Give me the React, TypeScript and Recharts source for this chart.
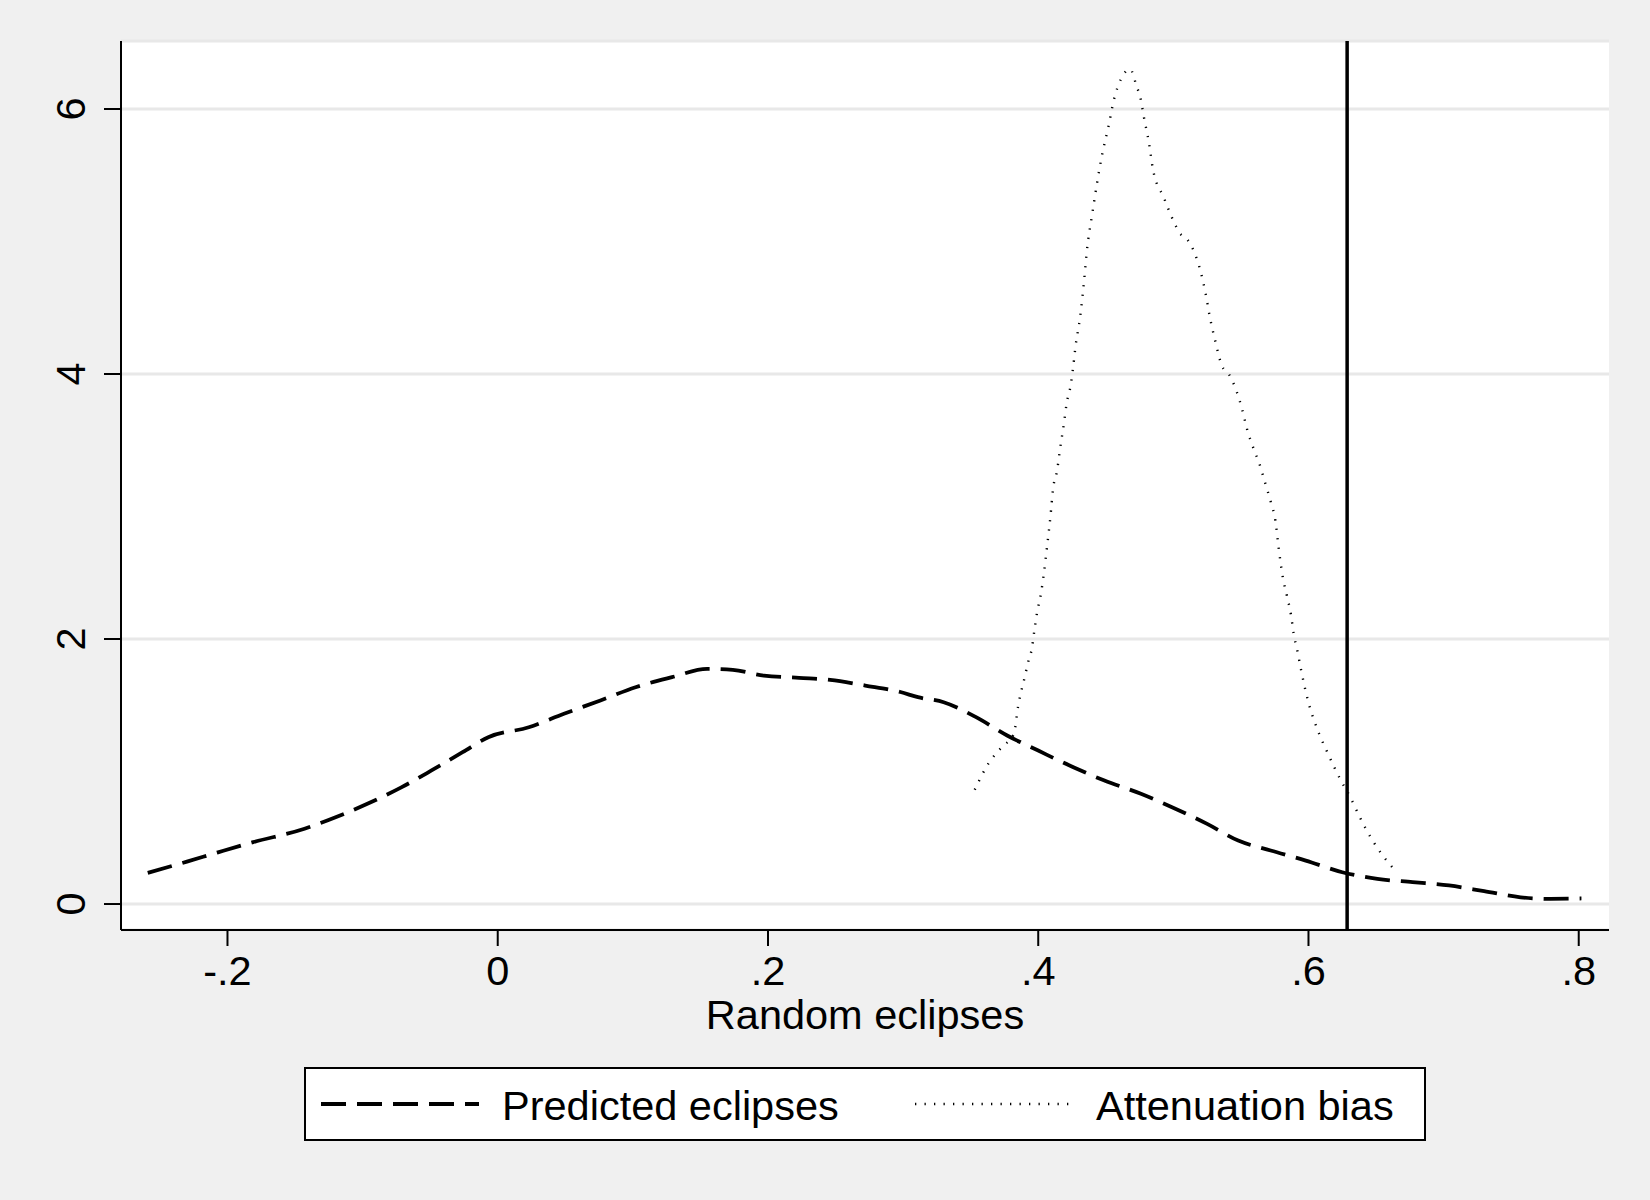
import React from 'react';
import { LineChart, Line, XAxis, YAxis, CartesianGrid, ReferenceLine, Legend } from 'recharts';

const FONT = '"Liberation Sans", Arial, Helvetica, sans-serif';

const predictedX = [
  -0.259, -0.23, -0.207, -0.181, -0.143, -0.12, -0.094, -0.071, -0.049, -0.026, -0.007,
  0.023, 0.049, 0.076, 0.102, 0.129, 0.155, 0.174, 0.197, 0.223, 0.246, 0.272, 0.298,
  0.311, 0.33, 0.354, 0.377, 0.4, 0.426, 0.449, 0.476, 0.499, 0.525, 0.548, 0.572, 0.598,
  0.625, 0.651, 0.677, 0.704, 0.73, 0.757, 0.779, 0.802,
];
const predictedY = [
  0.235, 0.32, 0.39, 0.467, 0.568, 0.655, 0.768, 0.882, 1.008, 1.146, 1.259,
  1.334, 1.436, 1.536, 1.636, 1.712, 1.775, 1.767, 1.724, 1.707, 1.692, 1.649, 1.6,
  1.561, 1.523, 1.41, 1.272, 1.158, 1.032, 0.932, 0.832, 0.731, 0.605, 0.479, 0.404, 0.328,
  0.24, 0.19, 0.165, 0.14, 0.097, 0.051, 0.039, 0.042,
];

const attenuationX = [
  0.353, 0.363, 0.373, 0.382, 0.385, 0.39, 0.393, 0.395, 0.397, 0.399, 0.402, 0.404,
  0.4065, 0.409, 0.411, 0.414, 0.416, 0.419, 0.421, 0.424, 0.426, 0.4275, 0.431, 0.434,
  0.436, 0.44, 0.4435, 0.447, 0.452, 0.456, 0.461, 0.468, 0.473, 0.4755, 0.478, 0.482,
  0.485, 0.493, 0.499, 0.505, 0.51, 0.515, 0.52, 0.524, 0.527, 0.531, 0.536, 0.541,
  0.547, 0.551, 0.5545, 0.559, 0.564, 0.568, 0.572, 0.5755, 0.578, 0.581, 0.584, 0.587,
  0.589, 0.592, 0.5946, 0.5996, 0.606, 0.6145, 0.624, 0.631, 0.638, 0.646, 0.654, 0.663,
];
const attenuationY = [
  0.862, 1.058, 1.184, 1.284, 1.486, 1.713, 1.844, 1.914, 2.053, 2.191, 2.342, 2.481,
  2.695, 2.921, 3.135, 3.273, 3.424, 3.625, 3.776, 3.914, 4.064, 4.2, 4.43, 4.71,
  4.93, 5.21, 5.44, 5.64, 5.87, 6.07, 6.22, 6.3, 6.165, 6.09, 5.95, 5.74,
  5.54, 5.33, 5.18, 5.06, 5.02, 4.93, 4.78, 4.6, 4.43, 4.25, 4.06, 4.0,
  3.863, 3.73, 3.585, 3.447, 3.313, 3.176, 3.038, 2.894, 2.681, 2.466, 2.328, 2.185,
  2.044, 1.9, 1.763, 1.536, 1.334, 1.133, 0.932, 0.806, 0.655, 0.504, 0.379, 0.266,
];

const xTicks = [-0.2, 0, 0.2, 0.4, 0.6, 0.8];
const xTickLabels = ['-.2', '0', '.2', '.4', '.6', '.8'];
const yTicks = [0, 2, 4, 6];
const yTickLabels = ['0', '2', '4', '6'];
const referenceX = 0.6286;
const seriesNames = ['Predicted eclipses', 'Attenuation bias'];
const xAxisTitle = 'Random eclipses';

const predictedData = predictedX.map((x, i) => ({ x, y: predictedY[i] }));
const attenuationData = attenuationX.map((x, i) => ({ x, y: attenuationY[i] }));

const DASH = '25 11';
const DOT = '1.3 8.2';

const labelFor = (ticks: number[], labels: string[], v: number) => {
  const i = ticks.findIndex((t) => Math.abs(t - v) < 1e-9);
  return i >= 0 ? labels[i] : String(v);
};

const YTick = (props: any) => {
  const { x, y, payload } = props;
  return (
    <text
      x={x}
      y={y}
      transform={`rotate(-90 ${x} ${y})`}
      textAnchor="middle"
      fontSize={41.5}
      fill="#000"
      fontFamily={FONT}
    >
      {labelFor(yTicks, yTickLabels, payload.value)}
    </text>
  );
};

const legendStyles = [
  { lineX1: 17, lineX2: 175, textX: 198, dash: DASH, width: 3.8 },
  { lineX1: 611, lineX2: 767, textX: 792, dash: DOT, width: 2.4 },
];

const LegendBox = () => (
  <svg width={1122} height={74} style={{ display: 'block' }}>
    <rect x={1} y={1} width={1120} height={72} fill="#fff" stroke="#000" strokeWidth={2} />
    {seriesNames.map((name, i) => {
      const s = legendStyles[i];
      return (
        <g key={name}>
          <line x1={s.lineX1} x2={s.lineX2} y1={37} y2={37} stroke="#000" strokeWidth={s.width} strokeDasharray={s.dash} />
          <text x={s.textX} y={52.5} fontSize={41.5} fontFamily={FONT} fill="#000">
            {name}
          </text>
        </g>
      );
    })}
  </svg>
);

export default function App() {
  return (
    <div
      style={{
        position: 'absolute',
        left: 0,
        top: 0,
        width: 1650,
        height: 1200,
        background: '#f0f0f0',
        fontFamily: FONT,
      }}
    >
      <LineChart width={1650} height={1200} margin={{ top: 41, right: 41, left: 0, bottom: 0 }}>
        <CartesianGrid vertical={false} stroke="#e8e8e8" strokeWidth={3} fill="#ffffff" fillOpacity={1} />
        <XAxis
          type="number"
          dataKey="x"
          domain={[-0.2788, 0.8224]}
          allowDataOverflow
          ticks={xTicks}
          tickFormatter={(v: number) => labelFor(xTicks, xTickLabels, v)}
          height={270}
          tickSize={16}
          tickMargin={10}
          axisLine={{ stroke: '#000', strokeWidth: 2 }}
          tickLine={{ stroke: '#000', strokeWidth: 2 }}
          tick={{ fontSize: 41.5, fill: '#000', fontFamily: FONT }}
          label={{ value: xAxisTitle, position: 'insideTop', offset: 70, fontSize: 41.5, fill: '#000', fontFamily: FONT }}
        />
        <YAxis
          type="number"
          domain={[-0.196, 6.513]}
          allowDataOverflow
          ticks={yTicks}
          width={121}
          tickSize={17}
          tickMargin={19}
          axisLine={{ stroke: '#000', strokeWidth: 2 }}
          tickLine={{ stroke: '#000', strokeWidth: 2 }}
          tick={<YTick />}
        />
        <Line
          data={predictedData}
          dataKey="y"
          name={seriesNames[0]}
          type="monotone"
          stroke="#000"
          strokeWidth={3.8}
          strokeDasharray={DASH}
          dot={false}
          activeDot={false}
          isAnimationActive={false}
        />
        <Line
          data={attenuationData}
          dataKey="y"
          name={seriesNames[1]}
          type="monotone"
          stroke="#000"
          strokeWidth={2.4}
          strokeDasharray={DOT}
          dot={false}
          activeDot={false}
          isAnimationActive={false}
        />
        <ReferenceLine x={referenceX} stroke="#000" strokeWidth={3.5} />
        <Legend
          layout="horizontal"
          verticalAlign="middle"
          align="center"
          wrapperStyle={{ position: 'absolute', left: 304, top: 1067, width: 1122, height: 74, margin: 0, padding: 0 }}
          content={() => <LegendBox />}
        />
      </LineChart>
    </div>
  );
}
